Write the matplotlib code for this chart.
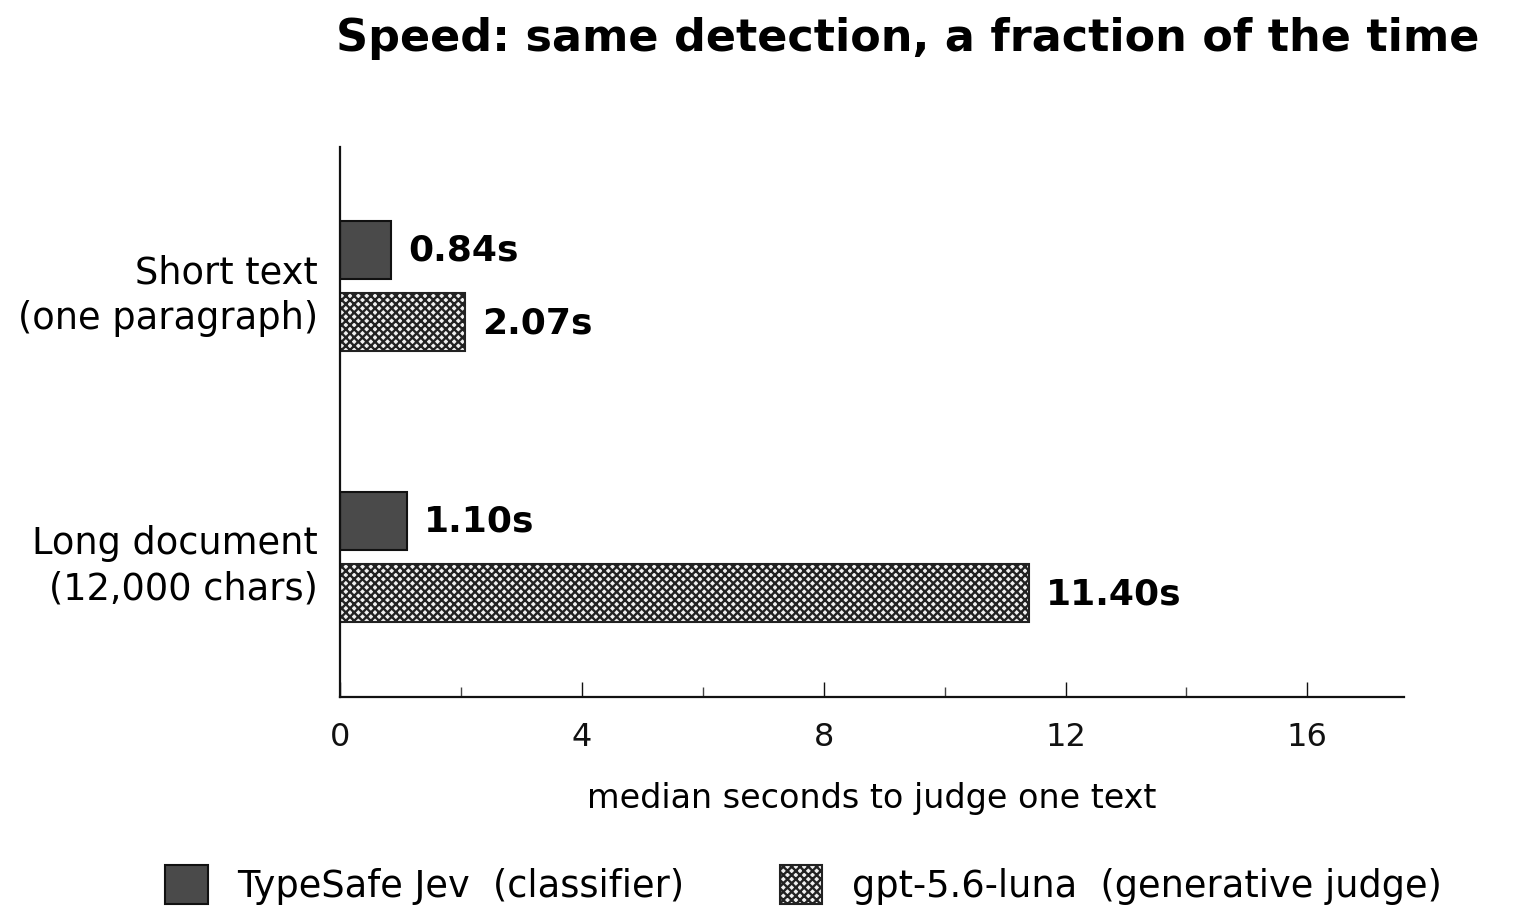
import matplotlib
matplotlib.use("Agg")
import matplotlib.pyplot as plt
import numpy as np
from matplotlib.patches import Patch

categories = ["Short text\n(one paragraph)", "Long document\n(12,000 chars)"]
series_names = ["TypeSafe Jev  (classifier)", "gpt-5.6-luna  (generative judge)"]
jev_secs = [0.84, 1.10]
luna_secs = [2.07, 11.40]

plt.rcParams['font.family'] = ['DejaVu Sans']
plt.rcParams['hatch.color'] = '#3a3a3a'
plt.rcParams['hatch.linewidth'] = 1.7

fig = plt.figure(figsize=(15.36, 9.12), dpi=100)
ax = fig.add_axes([0.2214, 0.2346, 0.6927, 0.6031])

y = np.arange(len(categories))
h = 0.215
off = 0.133

ax.barh(y - off, jev_secs, height=h, color='#4a4a4a', edgecolor='#111111', linewidth=1.5)
ax.barh(y + off, luna_secs, height=h, color='#f0f0f0', edgecolor='#222222', linewidth=1.5, hatch='xxxx')

for i in range(len(categories)):
    ax.text(jev_secs[i] + 0.28, y[i] - off, f"{jev_secs[i]:.2f}s", va='center', ha='left',
            fontsize=26, fontweight='bold')
    ax.text(luna_secs[i] + 0.28, y[i] + off, f"{luna_secs[i]:.2f}s", va='center', ha='left',
            fontsize=26, fontweight='bold')

ax.set_xlim(0, 17.6)
ax.set_ylim(1.517, -0.513)
ax.set_yticks(y)
ax.set_yticklabels(categories, fontsize=26.5, linespacing=1.3)
ax.set_xticks([0, 4, 8, 12, 16])
ax.set_xticks([2, 6, 10, 14], minor=True)
ax.tick_params(axis='x', which='major', direction='in', length=11, width=1, labelsize=23, pad=17, colors='#111111')
ax.tick_params(axis='x', which='minor', direction='in', length=7, width=1, colors='#444444')
ax.tick_params(axis='y', length=0, pad=16)
ax.set_xlabel("median seconds to judge one text", fontsize=24, labelpad=21)

for s in ['top', 'right']:
    ax.spines[s].set_visible(False)
for s in ['left', 'bottom']:
    ax.spines[s].set_linewidth(1.6)
    ax.spines[s].set_color('#111111')

fig.text(0.591, 0.958, "Speed: same detection, a fraction of the time", ha='center', va='center',
         fontsize=32, fontweight='bold')

handles = [Patch(facecolor='#4a4a4a', edgecolor='#111111', linewidth=1.5),
           Patch(facecolor='#f0f0f0', edgecolor='#222222', linewidth=1.5, hatch='xxxx')]
fig.legend(handles, series_names, loc='center', bbox_to_anchor=(0.523, 0.029), ncol=2,
           frameon=False, fontsize=26.5, handlelength=1.15, handleheight=1.25,
           handletextpad=0.8, columnspacing=2.6)

fig.savefig("out.png", dpi=100, facecolor='white')
